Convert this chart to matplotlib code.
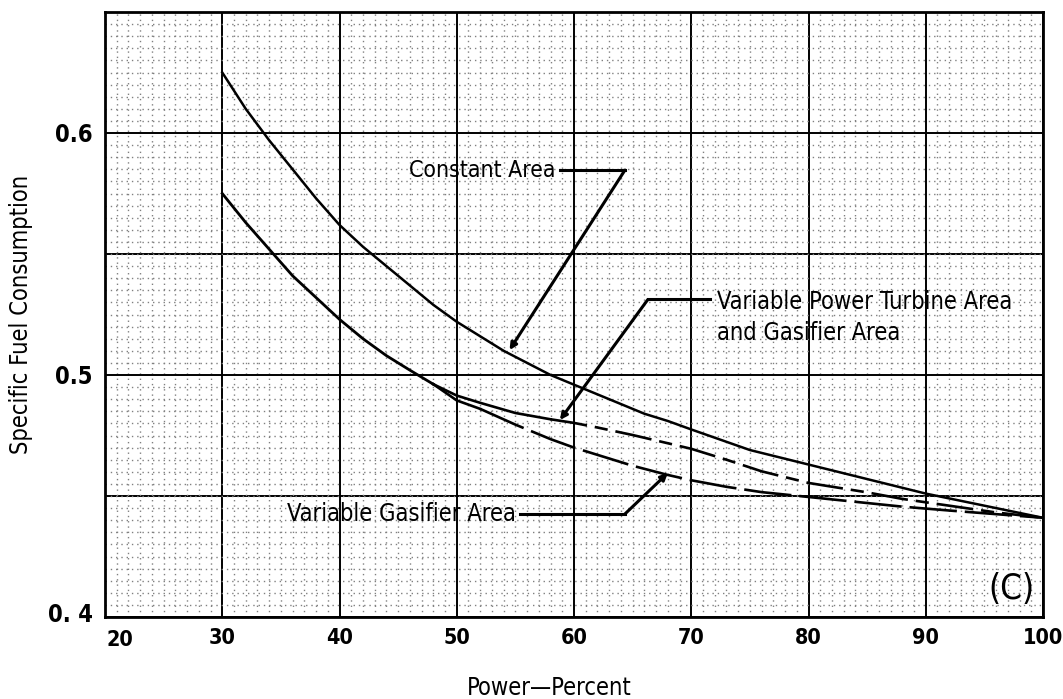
import matplotlib
matplotlib.use("Agg")
import matplotlib.pyplot as plt
from matplotlib.ticker import MultipleLocator
from matplotlib.transforms import ScaledTranslation
from matplotlib import font_manager

# Prefer a narrow sans for the labels when one is installed
names = {f.name for f in font_manager.fontManager.ttflist}
FONT = "Liberation Sans Narrow" if "Liberation Sans Narrow" in names else "DejaVu Sans"
plt.rcParams["font.family"] = [FONT, "DejaVu Sans"]
plt.rcParams["font.stretch"] = "condensed"

# Specific fuel consumption vs. power, three turbine configurations
const_power = [30, 32, 34, 36, 38, 40, 42, 44, 46, 48, 50, 52, 54, 56, 58, 60,
               62, 64, 66, 68, 70, 75, 80, 85, 90, 95, 100]
const_sfc = [0.625, 0.610, 0.597, 0.585, 0.573, 0.562, 0.553, 0.545, 0.537,
             0.529, 0.522, 0.516, 0.510, 0.505, 0.500, 0.496, 0.492, 0.488,
             0.484, 0.481, 0.4775, 0.469, 0.463, 0.457, 0.451, 0.446, 0.441]

# shared low-power branch of the two variable-geometry curves
common_power = [30, 32, 34, 36, 38, 40, 42, 44, 46, 48]
common_sfc = [0.575, 0.563, 0.552, 0.541, 0.532, 0.523, 0.515, 0.508, 0.502, 0.4962]

vpt_power = [48, 50, 52, 55, 58]
vpt_sfc = [0.4962, 0.4915, 0.4885, 0.4843, 0.4817]
vpt_tail_power = [58, 60, 62, 65, 68, 70, 73, 76, 80, 85, 88, 92, 96, 100]
vpt_tail_sfc = [0.4817, 0.4802, 0.4783, 0.4752, 0.4718, 0.4695, 0.4650, 0.4602,
                0.4554, 0.4515, 0.4488, 0.4460, 0.4432, 0.441]

gas_power = [48, 50, 52]
gas_sfc = [0.4962, 0.4895, 0.4860]
gas_tail_power = [52, 55, 58, 60, 63, 65, 68, 70, 73, 76, 80, 84, 88, 92, 96, 100]
gas_tail_sfc = [0.4860, 0.4795, 0.4735, 0.4700, 0.4655, 0.4625, 0.4587, 0.4565,
                0.4538, 0.4516, 0.4496, 0.4476, 0.4456, 0.4440, 0.4425, 0.441]

x_ticks = [20, 30, 40, 50, 60, 70, 80, 90, 100]
y_ticks = [0.4, 0.5, 0.6]
y_tick_labels = ["0. 4", "0.5", "0.6"]

fig = plt.figure(figsize=(10.63, 6.99), dpi=100)
ax = fig.add_axes([105 / 1063, 82 / 699, 938 / 1063, 605 / 699])
ax.set_xlim(20, 100)
ax.set_ylim(0.4, 0.65)

# graph-paper grid
ax.xaxis.set_major_locator(MultipleLocator(10))
ax.xaxis.set_minor_locator(MultipleLocator(1))
ax.yaxis.set_minor_locator(MultipleLocator(0.005))
ax.grid(which="major", color="black", lw=1.4)
ax.grid(which="minor", color="#808080", lw=1.0, linestyle=(0, (1.0, 2.8)))
ax.set_axisbelow(True)
for yv in (0.45, 0.55):
    ax.axhline(yv, color="black", lw=1.4, zorder=0.5)
for sp in ax.spines.values():
    sp.set_linewidth(2.0)
ax.tick_params(which="both", length=0)

ax.set_xticks(x_ticks)
ax.set_xticklabels([str(v) for v in x_ticks], fontsize=15.5, fontweight="bold")
ax.tick_params(axis="x", pad=8)
first = ax.get_xticklabels()[0]
first.set_transform(first.get_transform()
                    + ScaledTranslation(0.15, -0.02, fig.dpi_scale_trans))
ax.set_yticks(y_ticks)
ax.set_yticklabels(y_tick_labels, fontsize=17, fontweight="bold")
ax.tick_params(axis="y", pad=9)
bottom = ax.get_yticklabels()[0]
bottom.set_transform(bottom.get_transform()
                     + ScaledTranslation(0, 0.05, fig.dpi_scale_trans))

ax.set_xlabel("Power—Percent", fontsize=17)
ax.xaxis.set_label_coords(0.474, -0.097)
ax.set_ylabel("Specific Fuel Consumption", fontsize=17)
ax.yaxis.set_label_coords(-0.077, 0.5)

lc = "black"
ax.plot(const_power, const_sfc, color=lc, lw=1.8)
ax.plot(common_power, common_sfc, color=lc, lw=2.0)
ax.plot(vpt_power, vpt_sfc, color=lc, lw=1.9)
ax.plot(vpt_tail_power, vpt_tail_sfc, color=lc, lw=1.9, linestyle=(0, (14, 3, 5, 3)))
ax.plot(gas_power, gas_sfc, color=lc, lw=1.9)
ax.plot(gas_tail_power, gas_tail_sfc, color=lc, lw=1.9, linestyle=(0, (18, 3)))

arrow = dict(arrowstyle="-|>", color="black", lw=2.2, mutation_scale=10,
             shrinkA=0, shrinkB=0)

# Constant Area leader
ax.text(58.4, 0.5847, "Constant Area", fontsize=16.5, ha="right", va="center")
ax.plot([58.8, 64.35], [0.5847, 0.5847], color="black", lw=2.2)
ax.annotate("", xy=(54.5, 0.5103), xytext=(64.35, 0.5847), arrowprops=arrow)

# Variable power turbine + gasifier leader
ax.text(72.2, 0.5350, "Variable Power Turbine Area\nand Gasifier Area",
        fontsize=17, ha="left", va="top", linespacing=1.35)
ax.plot([66.3, 71.6], [0.5312, 0.5312], color="black", lw=2.2)
ax.annotate("", xy=(58.8, 0.4814), xytext=(66.3, 0.5312), arrowprops=arrow)

# Variable gasifier leader
ax.text(55.0, 0.4426, "Variable Gasifier Area", fontsize=17, ha="right", va="center")
ax.plot([55.4, 64.35], [0.4426, 0.4426], color="black", lw=2.2)
ax.annotate("", xy=(68.0, 0.4595), xytext=(64.35, 0.4426), arrowprops=arrow)

ax.text(99.3, 0.4045, "(C)", fontsize=25, ha="right", va="bottom")

fig.savefig("out.png", dpi=100)
